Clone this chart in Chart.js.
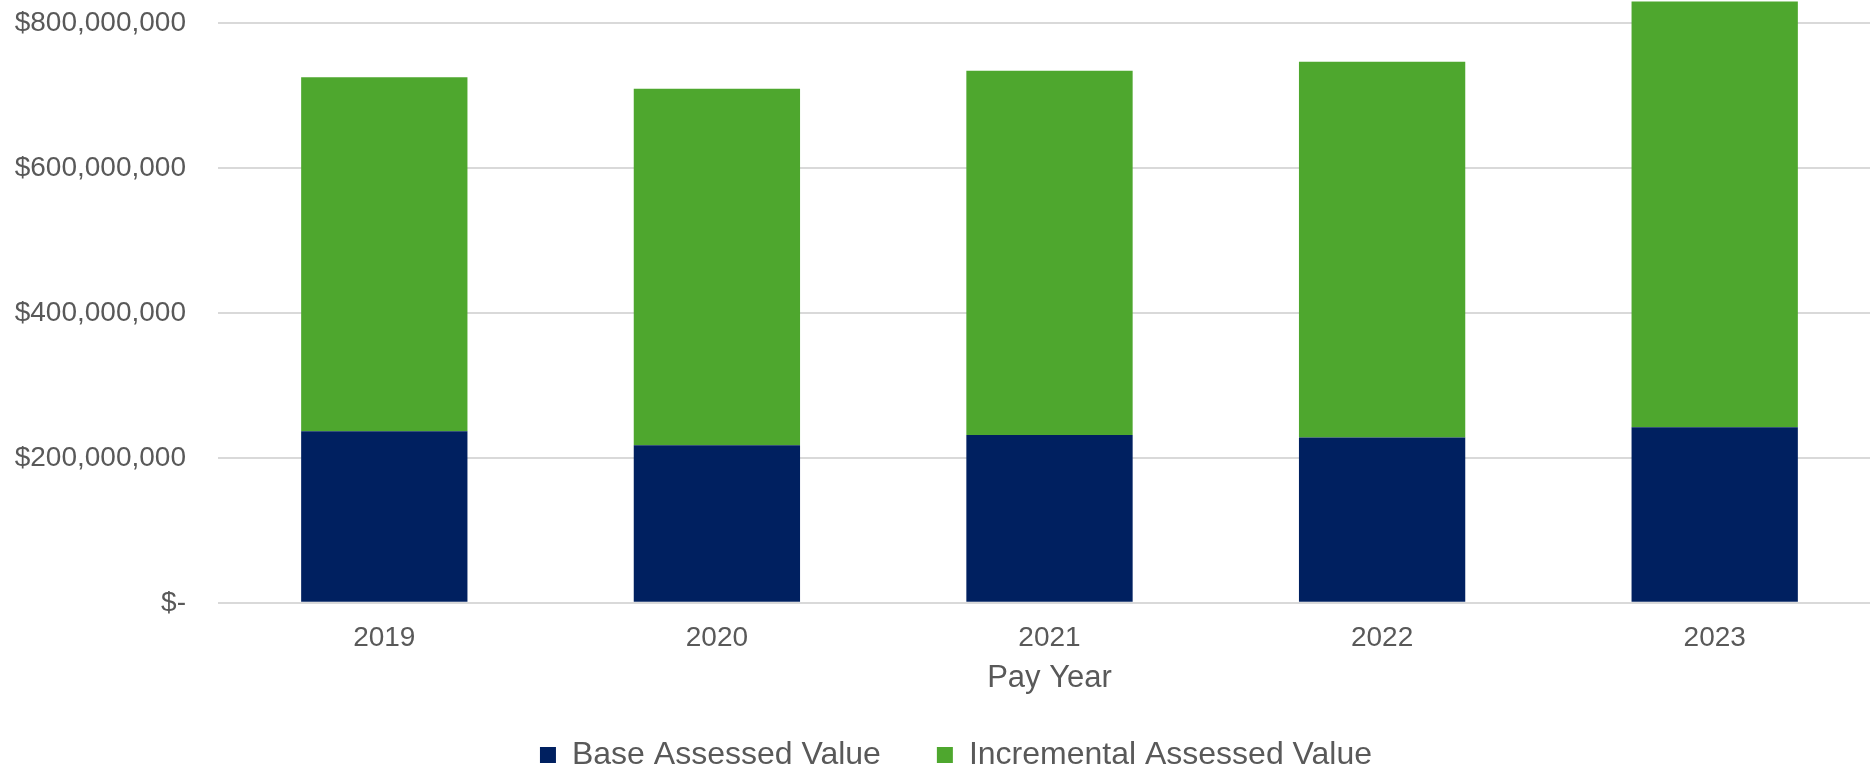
<!DOCTYPE html>
<html>
<head>
<meta charset="utf-8">
<script src="https://cdn.jsdelivr.net/npm/chart.js@4/dist/chart.umd.min.js"></script>
<style>
  html, body { margin: 0; padding: 0; background: #fff; overflow: hidden; }
  .wrap { width: 1890px; height: 781px; }
</style>
</head>
<body>
<div class="wrap"><canvas id="tifChart"></canvas></div>
<script>
// данные (в долларах)
const years = ['2019', '2020', '2021', '2022', '2023'];
const baseValue = [236.8e6, 217.5e6, 231.7e6, 228.0e6, 242.3e6];
const incrementalValue = [488.2e6, 491.9e6, 502.5e6, 518.7e6, 587.3e6];
const yTicks = [0, 200e6, 400e6, 600e6, 800e6];

const ink = '#595959';
const font = 'Liberation Sans, Arial, sans-serif';
const fmt = new Intl.NumberFormat('en-US');
const DOLLAR = '\x24';

new Chart(document.getElementById('tifChart').getContext('2d'), {
  type: 'bar',
  data: {
    labels: years,
    datasets: [
      { label: 'Base Assessed Value', data: baseValue, backgroundColor: '#002060', clip: false },
      { label: 'Incremental Assessed Value', data: incrementalValue, backgroundColor: '#4EA72E', clip: false }
    ]
  },
  options: {
    responsive: true,
    maintainAspectRatio: false,
    animation: false,
    barPercentage: 0.5,
    categoryPercentage: 1,
    layout: { padding: { top: 23, left: 31, right: 9, bottom: 0 } },
    plugins: {
      tooltip: { enabled: false },
      legend: {
        position: 'bottom',
        labels: {
          color: ink,
          boxWidth: 16, boxHeight: 16,
          padding: 56,
          font: { family: font, size: 32 }
        }
      }
    },
    scales: {
      x: {
        stacked: true,
        grid: { display: false },
        border: { display: false },
        ticks: { color: ink, padding: 10.2, font: { family: font, size: 28 } },
        title: {
          display: true, text: 'Pay Year', color: ink,
          font: { family: font, size: 31 },
          padding: { top: -5.4, bottom: -13.6 }
        }
      },
      y: {
        stacked: true,
        min: 0, max: 800e6,
        afterBuildTicks: s => { s.ticks = yTicks.map(v => ({ value: v })); },
        // фиксированная ширина оси и без лишних отступов сверху/снизу
        afterFit: s => { s.width = 187; s.paddingTop = 0; s.paddingBottom = 0; },
        grid: { color: '#d9d9d9', lineWidth: 2, drawTicks: false },
        border: { display: false },
        ticks: {
          color: ink, padding: 32,
          font: { family: font, size: 28 },
          callback: v => v === 0 ? DOLLAR + '-' : DOLLAR + fmt.format(v)
        }
      }
    }
  },
  // подписи оси Y длиннее самой оси — расширяем область отсечения до края холста
  plugins: [{ id: 'yLabelArea', afterLayout: ch => { ch.scales.y.left = 0; } }]
});
</script>
</body>
</html>
